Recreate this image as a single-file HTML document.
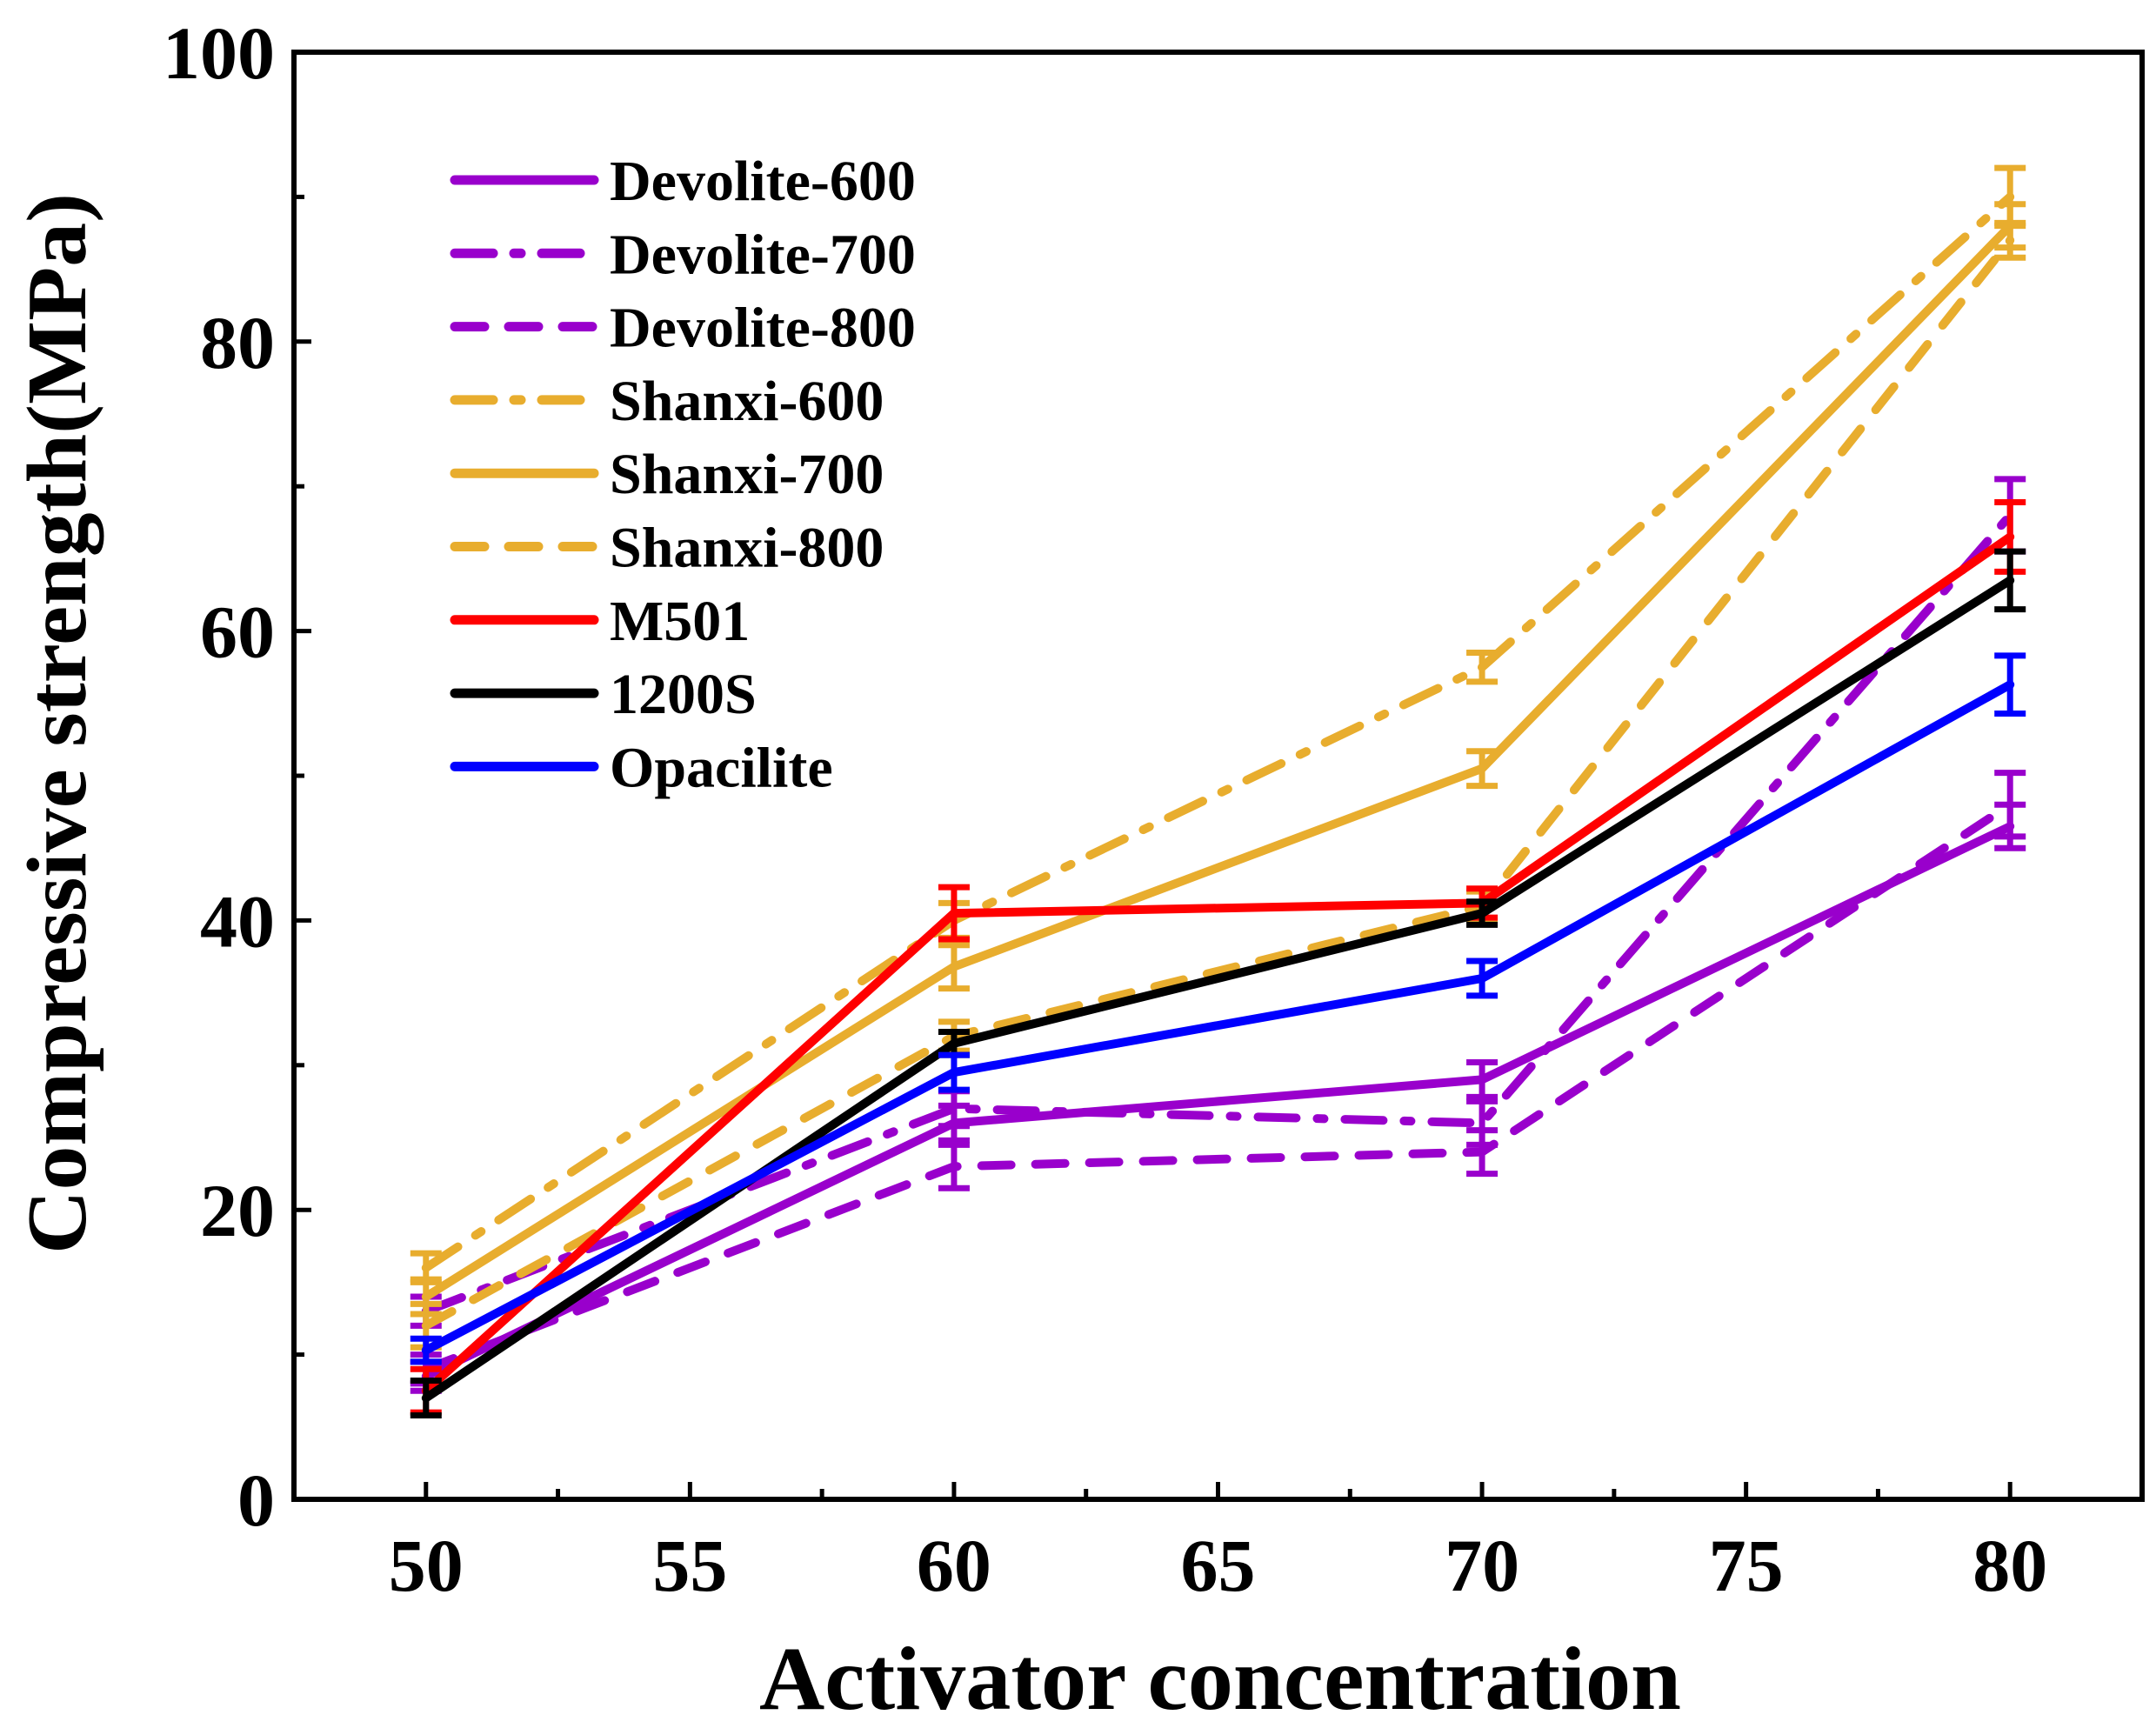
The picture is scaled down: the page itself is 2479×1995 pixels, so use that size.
<!DOCTYPE html>
<html><head><meta charset="utf-8"><style>
html,body{margin:0;padding:0;background:#fff;}
svg text{font-family:"Liberation Serif",serif;font-weight:bold;fill:#000;}
</style></head><body>
<svg id="chart" width="2479" height="1990" xmlns="http://www.w3.org/2000/svg">
<rect x="0" y="0" width="2479" height="1990" fill="#fff"/>
<g id="series"></g>
<g id="axes"></g>
<g id="legend"></g>
<text x="1403" y="1965" font-size="104" text-anchor="middle" textLength="1060" lengthAdjust="spacingAndGlyphs">Activator concentration</text>
<text transform="translate(98,832) rotate(-90)" font-size="98" text-anchor="middle" textLength="1220" lengthAdjust="spacingAndGlyphs">Compressive strength(MPa)</text>
</svg>
<script>
const xCats = [50, 60, 70, 80];
const xTicks = [50, 55, 60, 65, 70, 75, 80];
const yTicks = [0, 20, 40, 60, 80, 100];
const seriesNames = ["Devolite-600","Devolite-700","Devolite-800","Shanxi-600","Shanxi-700","Shanxi-800","M501","1200S","Opacilite"];
const dev600 = [8.5, 26, 29, 46.5];
const dev600Err = [1, 1.2, 1.2, 1.5];
const dev700 = [13, 27, 26, 68];
const dev700Err = [1, 1.2, 1.5, 2.5];
const dev800 = [9, 23, 24, 48];
const dev800Err = [1, 1.5, 1.5, 2.2];
const sx600 = [16, 40, 57.5, 90];
const sx600Err = [1, 1.2, 1, 2];
const sx700 = [14, 36.8, 50.5, 88];
const sx700Err = [1.2, 1.5, 1.2, 1.5];
const sx800 = [12, 32, 41, 87];
const sx800Err = [1.5, 1, 1, 1.2];
const m501 = [7.5, 40.5, 41.2, 66.5];
const m501Err = [1.5, 1.8, 1, 2.4];
const s1200 = [7, 31.5, 40.5, 63.5];
const s1200Err = [1.2, 0.8, 0.8, 2];
const opac = [10.3, 29.5, 36, 56.3];
const opacErr = [0.8, 1.2, 1.2, 2];

const X0=338, X1=2463, Y0=60, Y1=1724;
const xMin=47.5, xMax=82.5, yMin=0, yMax=100;
function sx(v){return X0+(v-xMin)/(xMax-xMin)*(X1-X0);}
function sy(v){return Y1-(v-yMin)/(yMax-yMin)*(Y1-Y0);}
const NS="http://www.w3.org/2000/svg";
function mk(tag, parent, attrs){const e=document.createElementNS(NS,tag);for(const k in attrs)e.setAttribute(k,attrs[k]);parent.appendChild(e);return e;}

const PUR="#9900cc", GOLD="#e8ad2e";
const DD="44 24 8 24", DA="34 28";
const styles=[
 [dev600,dev600Err,PUR,null],[dev700,dev700Err,PUR,DD],[dev800,dev800Err,PUR,DA],
 [sx600,sx600Err,GOLD,DD],[sx700,sx700Err,GOLD,null],[sx800,sx800Err,GOLD,DA],
 [m501,m501Err,"#ff0000",null],[s1200,s1200Err,"#000000",null],[opac,opacErr,"#0000ff",null]];
const sg=document.getElementById('series');
styles.forEach((s,i)=>{
  const g=mk('g',sg,{});
  
  
  const pts=s[0].map((v,j)=>sx(xCats[j]).toFixed(1)+','+sy(v).toFixed(1)).join(' ');
  const pl=mk('polyline',g,{points:pts,fill:'none',stroke:s[2],'stroke-width':10,'stroke-linejoin':'round','stroke-linecap':'round'});
  if(s[3])pl.setAttribute('stroke-dasharray',s[3]);
  
  
  s[0].forEach((v,j)=>{
    const x=sx(xCats[j]), a=sy(v+s[1][j]), b=sy(v-s[1][j]);
    const eb=mk('path',g,{d:`M${x-18},${a}H${x+18}M${x},${a}V${b}M${x-18},${b}H${x+18}`,stroke:s[2],'stroke-width':7,fill:'none'});
    
    
  });
});

const ag=document.getElementById('axes');
const fr=mk('rect',ag,{x:X0,y:Y0,width:X1-X0,height:Y1-Y0,fill:'none',stroke:'#000','stroke-width':6});


xTicks.forEach(v=>{
  const x=sx(v);
  mk('line',ag,{x1:x,x2:x,y1:Y1,y2:Y1-20,stroke:'#000','stroke-width':5});
  const t=mk('text',ag,{x:x,y:Y1+105,'font-size':86,'text-anchor':'middle'});
  t.textContent=v;
  
  
  if(v<80){const m=sx(v+2.5);mk('line',ag,{x1:m,x2:m,y1:Y1,y2:Y1-12,stroke:'#000','stroke-width':5});}
});
yTicks.forEach(v=>{
  const y=sy(v);
  mk('line',ag,{x1:X0,x2:X0+20,y1:y,y2:y,stroke:'#000','stroke-width':5});
  const t=mk('text',ag,{x:X0-22,y:y+30,'font-size':86,'text-anchor':'end'});
  t.textContent=v;
  
  
  if(v<100){const m=sy(v+10);mk('line',ag,{x1:X0,x2:X0+12,y1:m,y2:m,stroke:'#000','stroke-width':5});}
});

const lg=document.getElementById('legend');
styles.forEach((s,i)=>{
  const y=207+i*84.3;
  const e=mk('g',lg,{});
  
  
  const l=mk('line',e,{x1:523,x2:683,y1:y,y2:y,stroke:s[2],'stroke-width':11,'stroke-linecap':'round'});
  if(s[3])l.setAttribute('stroke-dasharray',s[3]);
  const t=mk('text',e,{x:701,y:y+23,'font-size':66});
  t.textContent=seriesNames[i];
});
</script>
</body></html>
